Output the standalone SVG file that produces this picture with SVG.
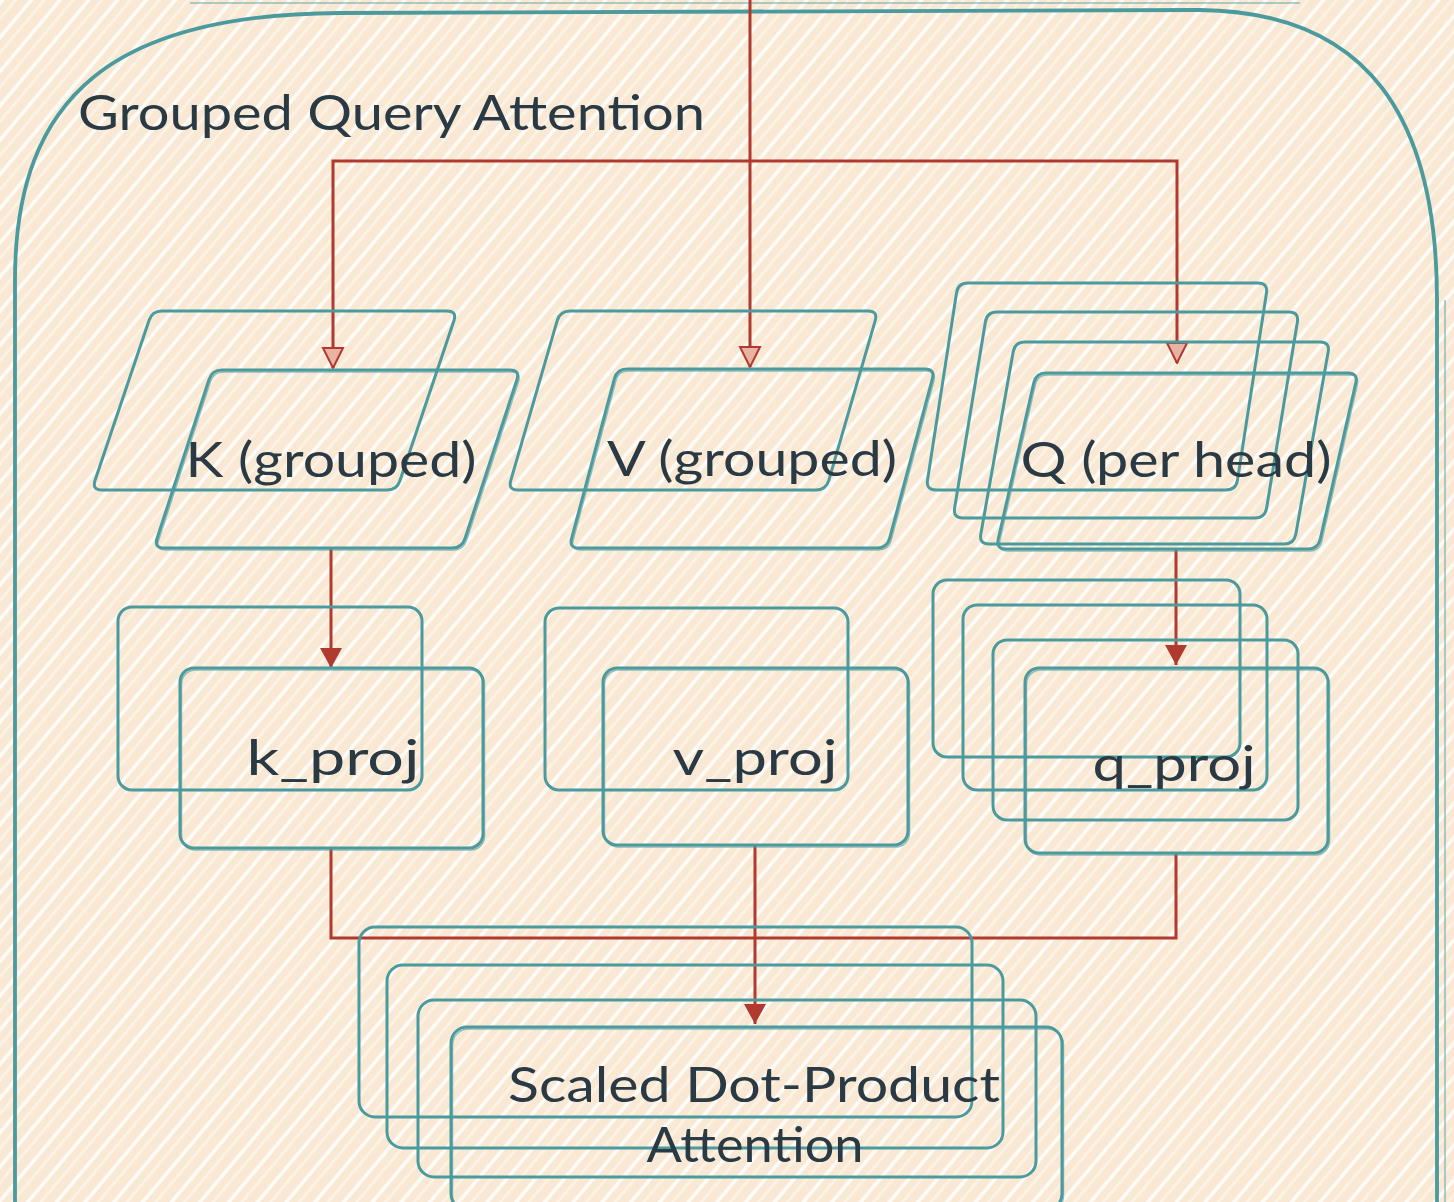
<svg xmlns="http://www.w3.org/2000/svg" xmlns:xlink="http://www.w3.org/1999/xlink" width="1454" height="1202" viewBox="0 0 1454 1202">
  <style>
    .box { fill: none; stroke: #4a9a9e; stroke-width: 3; stroke-linejoin: round; }
    .ghost { fill: none; stroke: #4a9a9e; stroke-width: 1.5; opacity: 0.6; }
    .frame { fill: none; stroke: #4a9a9e; stroke-width: 3.8; }
    .link { fill: none; stroke: #b03a30; stroke-width: 3; stroke-linejoin: miter; }
    .lbl { font-family: Lato, "Open Sans", "Liberation Sans", sans-serif; font-size: 48px; fill: #2a3a44; text-anchor: middle; }
    .title { font-family: Lato, "Open Sans", "Liberation Sans", sans-serif; font-size: 48px; fill: #2a3a44; }
  </style>
  <defs>
    <pattern id="hatch" width="22" height="22" patternUnits="userSpaceOnUse" patternTransform="rotate(40)">
      <rect width="22" height="22" fill="#f9e9d4"/>
      <line x1="2" y1="0" x2="2" y2="22" stroke="#ffffff" stroke-width="3.5" opacity="0.85"/>
      <line x1="12" y1="0" x2="12" y2="22" stroke="#fdf4e8" stroke-width="2.5" opacity="0.9"/>
    </pattern>
    <marker id="arrow-open" viewBox="0 0 22 24" refX="21" refY="12" markerWidth="22" markerHeight="24" markerUnits="userSpaceOnUse" orient="auto">
      <path d="M1,2 L21,12 L1,22 Z" fill="#e9b3a3" stroke="#b03a30" stroke-width="2"/>
    </marker>
    <marker id="arrow-fill" viewBox="0 0 22 24" refX="21" refY="12" markerWidth="22" markerHeight="24" markerUnits="userSpaceOnUse" orient="auto">
      <path d="M1,1 L21,12 L1,23 Z" fill="#b03a30"/>
    </marker>
  </defs>

  <rect x="0" y="0" width="1454" height="1202" fill="url(#hatch)"/>

  <g id="gqa-container">
    <path class="frame" d="M15,1210 L15,280 C15,95 115,14 340,13 L1200,10 C1370,12 1437,120 1437,300 L1437,1210"/>
    <path class="ghost" d="M190,3 L1300,3"/>
    <path class="ghost" d="M1445,300 L1445,1210"/>
    <text class="title" x="78" y="130" textLength="627" lengthAdjust="spacingAndGlyphs">Grouped Query Attention</text>
  </g>

  <g id="connectors">
    <path class="link" d="M750,-5 L750,367" marker-end="url(#arrow-open)"/>
    <path class="link" d="M750,161 L333,161 L333,368" marker-end="url(#arrow-open)"/>
    <path class="link" d="M750,161 L1177,161 L1177,363" marker-end="url(#arrow-open)"/>
    <path class="link" d="M331,548 L331,668" marker-end="url(#arrow-fill)"/>
    <path class="link" d="M1176,549 L1176,665" marker-end="url(#arrow-fill)"/>
    <path class="link" d="M331,848 L331,938 L755,938"/>
    <path class="link" d="M1176,853 L1176,938 L755,938"/>
    <path class="link" d="M755,845 L755,1024" marker-end="url(#arrow-fill)"/>
  </g>

  <g id="k-grouped">
    <path class="box" d="M162,311 L447,311 Q457,311 454,320.5 L400,480.5 Q397,490 387,490 L102,490 Q92,490 95,480.5 L149,320.5 Q152,311 162,311 Z"/>
    <path class="box" d="M222,370 L510,370 Q520,370 517,379.5 L465,538.5 Q462,548 452,548 L164,548 Q154,548 157,538.5 L209,379.5 Q212,370 222,370 Z"/>
    <path class="ghost" transform="translate(1.5,2)" d="M222,370 L510,370 Q520,370 517,379.5 L465,538.5 Q462,548 452,548 L164,548 Q154,548 157,538.5 L209,379.5 Q212,370 222,370 Z"/>
    <text class="lbl" x="331" y="477" textLength="291" lengthAdjust="spacingAndGlyphs">K (grouped)</text>
  </g>

  <g id="v-grouped">
    <path class="box" d="M570,311 L868,311 Q878,311 875.2,320.6 L828.8,480.4 Q826,490 816,490 L518,490 Q508,490 510.8,480.4 L557.2,320.6 Q560,311 570,311 Z"/>
    <path class="box" d="M627,369 L925,369 Q935,369 932.4,378.7 L889.6,538.3 Q887,548 877,548 L579,548 Q569,548 571.6,538.3 L614.4,378.7 Q617,369 627,369 Z"/>
    <path class="ghost" transform="translate(1.5,2)" d="M627,369 L925,369 Q935,369 932.4,378.7 L889.6,538.3 Q887,548 877,548 L579,548 Q569,548 571.6,538.3 L614.4,378.7 Q617,369 627,369 Z"/>
    <text class="lbl" x="752" y="476" textLength="290" lengthAdjust="spacingAndGlyphs">V (grouped)</text>
  </g>

  <g id="q-per-head">
    <path class="box" d="M968,283 L1258,283 Q1268,283 1266.5,292.9 L1237.5,480.1 Q1236,490 1226,490 L936,490 Q926,490 927.5,480.1 L956.5,292.9 Q958,283 968,283 Z"/>
    <path class="box" d="M997,312 L1289,312 Q1299,312 1297.4,321.9 L1266.6,508.1 Q1265,518 1255,518 L963,518 Q953,518 954.6,508.1 L985.4,321.9 Q987,312 997,312 Z"/>
    <path class="box" d="M1025,342 L1320,342 Q1330,342 1328.2,351.8 L1295.8,534.2 Q1294,544 1284,544 L989,544 Q979,544 980.8,534.2 L1013.2,351.8 Q1015,342 1025,342 Z"/>
    <path class="box" d="M1046,373 L1348,373 Q1358,373 1355.8,382.75 L1320.2,539.25 Q1318,549 1308,549 L1006,549 Q996,549 998.2,539.25 L1033.8,382.75 Q1036,373 1046,373 Z"/>
    <path class="ghost" transform="translate(1.5,2)" d="M1046,373 L1348,373 Q1358,373 1355.8,382.75 L1320.2,539.25 Q1318,549 1308,549 L1006,549 Q996,549 998.2,539.25 L1033.8,382.75 Q1036,373 1046,373 Z"/>
    <text class="lbl" x="1176" y="477" textLength="311" lengthAdjust="spacingAndGlyphs">Q (per head)</text>
  </g>

  <g id="k-proj">
    <rect class="box" x="118" y="607" width="304" height="183" rx="14"/>
    <rect class="box" x="180" y="668" width="303" height="180" rx="14"/>
    <rect class="ghost" x="181.5" y="670" width="303" height="180" rx="14"/>
    <text class="lbl" x="333" y="775" textLength="173" lengthAdjust="spacingAndGlyphs">k_proj</text>
  </g>

  <g id="v-proj">
    <rect class="box" x="545" y="608" width="303" height="182" rx="14"/>
    <rect class="box" x="603" y="668" width="305" height="177" rx="14"/>
    <rect class="ghost" x="604.5" y="670" width="305" height="177" rx="14"/>
    <text class="lbl" x="755" y="775" textLength="165" lengthAdjust="spacingAndGlyphs">v_proj</text>
  </g>

  <g id="q-proj">
    <rect class="box" x="933" y="580" width="307" height="177" rx="14"/>
    <rect class="box" x="963" y="605" width="304" height="185" rx="14"/>
    <rect class="box" x="993" y="640" width="305" height="180" rx="14"/>
    <rect class="box" x="1025" y="668" width="303" height="185" rx="14"/>
    <rect class="ghost" x="1026.5" y="670" width="303" height="185" rx="14"/>
    <text class="lbl" x="1174" y="781" textLength="163" lengthAdjust="spacingAndGlyphs">q_proj</text>
  </g>

  <g id="scaled-dot-product-attention">
    <rect class="box" x="359" y="927" width="613" height="190" rx="16"/>
    <rect class="box" x="387" y="965" width="616" height="183" rx="16"/>
    <rect class="box" x="418" y="1000" width="618" height="177" rx="16"/>
    <rect class="box" x="451" y="1027" width="611" height="183" rx="16"/>
    <rect class="ghost" x="452.5" y="1029" width="611" height="183" rx="16"/>
    <text class="lbl" x="754" y="1102" textLength="492" lengthAdjust="spacingAndGlyphs">Scaled Dot-Product</text>
    <text class="lbl" x="755" y="1162" textLength="217" lengthAdjust="spacingAndGlyphs">Attention</text>
  </g>
</svg>
